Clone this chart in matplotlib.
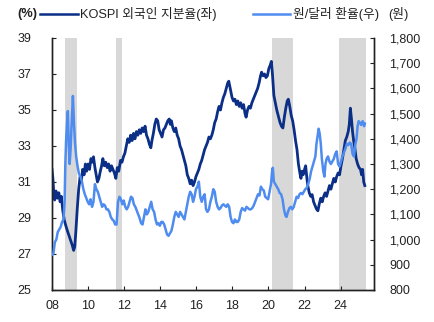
import matplotlib
matplotlib.use("Agg")
import matplotlib.pyplot as plt
from matplotlib.lines import Line2D
from matplotlib.ticker import FuncFormatter

plt.rcParams['font.family'] = ['Liberation Sans', 'Noto Sans CJK KR', 'DejaVu Sans']

# KOSPI foreign ownership share (%), left axis
share_t = [2008.00, 2008.05, 2008.10, 2008.15, 2008.22, 2008.30, 2008.38, 2008.45, 2008.52, 2008.60,
           2008.68, 2008.76, 2008.85, 2008.95, 2009.05, 2009.12, 2009.20, 2009.26, 2009.32, 2009.40,
           2009.48, 2009.56, 2009.62, 2009.70, 2009.78, 2009.85, 2009.92, 2010.00, 2010.08, 2010.16,
           2010.24, 2010.30, 2010.38, 2010.45, 2010.52, 2010.60, 2010.68, 2010.75, 2010.82, 2010.90,
           2010.98, 2011.06, 2011.14, 2011.22, 2011.30, 2011.38, 2011.46, 2011.54, 2011.62, 2011.70,
           2011.80, 2011.88, 2011.96, 2012.04, 2012.12, 2012.20, 2012.28, 2012.36, 2012.44, 2012.52,
           2012.60, 2012.68, 2012.76, 2012.84, 2012.92, 2013.00, 2013.08, 2013.16, 2013.24, 2013.32,
           2013.40, 2013.48, 2013.54, 2013.62, 2013.70, 2013.78, 2013.86, 2013.94, 2014.02, 2014.10,
           2014.18, 2014.26, 2014.34, 2014.42, 2014.50, 2014.56, 2014.62, 2014.70, 2014.78, 2014.86,
           2014.94, 2015.02, 2015.10, 2015.18, 2015.26, 2015.34, 2015.42, 2015.50, 2015.58, 2015.66,
           2015.74, 2015.82, 2015.90, 2015.98, 2016.06, 2016.14, 2016.22, 2016.30, 2016.38, 2016.46,
           2016.54, 2016.62, 2016.70, 2016.78, 2016.86, 2016.94, 2017.02, 2017.10, 2017.18, 2017.26,
           2017.34, 2017.42, 2017.50, 2017.58, 2017.66, 2017.74, 2017.80, 2017.86, 2017.92, 2017.98,
           2018.06, 2018.14, 2018.22, 2018.30, 2018.38, 2018.46, 2018.54, 2018.62, 2018.70, 2018.76,
           2018.84, 2018.92, 2019.00, 2019.08, 2019.16, 2019.24, 2019.32, 2019.40, 2019.48, 2019.56,
           2019.62, 2019.70, 2019.78, 2019.86, 2019.94, 2020.02, 2020.10, 2020.16, 2020.22, 2020.30,
           2020.38, 2020.46, 2020.56, 2020.64, 2020.72, 2020.80, 2020.88, 2020.96, 2021.04, 2021.10,
           2021.18, 2021.26, 2021.34, 2021.42, 2021.50, 2021.58, 2021.66, 2021.74, 2021.80, 2021.86,
           2021.92, 2022.00, 2022.06, 2022.12, 2022.18, 2022.26, 2022.34, 2022.42, 2022.50, 2022.58,
           2022.66, 2022.74, 2022.82, 2022.90, 2022.98, 2023.06, 2023.14, 2023.22, 2023.30, 2023.38,
           2023.46, 2023.54, 2023.62, 2023.70, 2023.78, 2023.86, 2023.94, 2024.02, 2024.10, 2024.18,
           2024.26, 2024.34, 2024.42, 2024.48, 2024.54, 2024.60, 2024.66, 2024.72, 2024.80, 2024.86,
           2024.94, 2025.02, 2025.10, 2025.16, 2025.22, 2025.28, 2025.34]
share_v = [31.7, 31.2, 30.4, 30.0, 30.5, 30.1, 30.4, 29.9, 30.2, 29.4,
           28.9, 28.6, 28.3, 28.0, 27.7, 27.5, 27.2, 27.4, 28.2, 29.5,
           30.6, 31.3, 31.0, 31.7, 31.4, 32.0, 31.6, 32.0, 31.7, 32.3,
           32.1, 32.4, 31.8, 31.4, 31.0, 31.2, 31.6, 31.9, 32.3, 31.9,
           32.1, 31.8, 32.0, 31.6, 31.9, 31.7, 31.5, 31.2, 31.8, 31.6,
           32.2, 32.1, 32.4, 32.6, 33.0, 33.4, 33.2, 33.6, 33.3, 33.7,
           33.4, 33.8, 33.6, 33.9, 33.7, 34.0, 33.8, 34.1, 33.6, 33.4,
           33.1, 32.9, 33.3, 33.7, 34.2, 34.5, 34.4, 33.9, 33.7, 33.5,
           33.9, 34.0, 34.2, 34.4, 34.5, 34.2, 34.4, 34.0, 33.8, 34.0,
           33.6, 33.4, 33.0, 32.8, 32.5, 32.2, 31.9, 31.4, 31.2, 30.9,
           31.1, 30.8, 31.0, 31.3, 31.5, 31.7, 32.0, 32.2, 32.5, 32.8,
           33.0, 33.2, 33.5, 33.4, 33.6, 33.9, 34.3, 34.5, 34.9, 35.2,
           35.0, 35.4, 35.7, 35.9, 36.2, 36.5, 36.6, 36.3, 36.0, 35.7,
           35.5, 35.6, 35.3, 35.5, 35.2, 35.4, 35.1, 35.3, 34.8, 34.6,
           35.0, 35.2, 35.1, 35.4, 35.6, 35.8, 36.0, 36.2, 36.5, 36.9,
           37.1, 36.9, 37.0, 36.8, 36.9, 37.3, 37.5, 37.7, 37.0, 35.8,
           35.4, 35.0, 34.6, 34.3, 34.1, 34.0, 34.6, 35.1, 35.5, 35.6,
           35.2, 34.7, 34.4, 33.9, 33.3, 32.8, 32.0, 31.5, 31.2, 31.6,
           31.4, 31.7, 31.9, 31.3, 30.8, 30.4, 30.2, 30.3, 29.9, 29.7,
           29.5, 29.4, 29.8, 30.1, 29.9, 30.2, 30.4, 30.2, 30.5, 30.8,
           30.6, 30.9, 31.2, 31.0, 31.3, 31.5, 31.4, 31.9, 32.3, 32.8,
           33.3, 33.5, 33.8, 34.2, 35.1, 34.5, 33.8, 33.3, 32.8, 32.3,
           32.0, 31.8, 31.7, 31.4, 31.7, 31.0, 30.8]

# KRW/USD exchange rate (won), right axis
fx_t = [2008.00, 2008.08, 2008.16, 2008.24, 2008.32, 2008.40, 2008.48, 2008.56, 2008.64, 2008.70,
        2008.74, 2008.78, 2008.84, 2008.88, 2008.93, 2008.98, 2009.04, 2009.10, 2009.16, 2009.22,
        2009.28, 2009.34, 2009.42, 2009.50, 2009.58, 2009.66, 2009.74, 2009.82, 2009.90, 2009.98,
        2010.06, 2010.14, 2010.22, 2010.30, 2010.38, 2010.46, 2010.54, 2010.62, 2010.70, 2010.78,
        2010.86, 2010.94, 2011.02, 2011.10, 2011.18, 2011.26, 2011.34, 2011.42, 2011.50, 2011.58,
        2011.66, 2011.74, 2011.82, 2011.90, 2011.98, 2012.06, 2012.14, 2012.22, 2012.30, 2012.38,
        2012.46, 2012.54, 2012.62, 2012.70, 2012.78, 2012.86, 2012.94, 2013.02, 2013.10, 2013.18,
        2013.26, 2013.34, 2013.42, 2013.50, 2013.58, 2013.66, 2013.74, 2013.82, 2013.90, 2013.98,
        2014.06, 2014.14, 2014.22, 2014.30, 2014.38, 2014.46, 2014.54, 2014.62, 2014.70, 2014.78,
        2014.86, 2014.94, 2015.02, 2015.10, 2015.18, 2015.26, 2015.34, 2015.42, 2015.50, 2015.58,
        2015.66, 2015.74, 2015.82, 2015.90, 2015.98, 2016.06, 2016.14, 2016.22, 2016.30, 2016.38,
        2016.46, 2016.54, 2016.62, 2016.70, 2016.78, 2016.86, 2016.94, 2017.02, 2017.10, 2017.18,
        2017.26, 2017.34, 2017.42, 2017.50, 2017.58, 2017.66, 2017.74, 2017.82, 2017.90, 2017.98,
        2018.06, 2018.14, 2018.22, 2018.30, 2018.38, 2018.46, 2018.54, 2018.62, 2018.70, 2018.78,
        2018.86, 2018.94, 2019.02, 2019.10, 2019.18, 2019.26, 2019.34, 2019.42, 2019.50, 2019.58,
        2019.66, 2019.74, 2019.82, 2019.90, 2019.98, 2020.06, 2020.14, 2020.20, 2020.24, 2020.30,
        2020.38, 2020.46, 2020.54, 2020.62, 2020.70, 2020.78, 2020.86, 2020.94, 2021.00, 2021.08,
        2021.16, 2021.24, 2021.32, 2021.40, 2021.48, 2021.56, 2021.64, 2021.72, 2021.80, 2021.88,
        2021.96, 2022.04, 2022.12, 2022.20, 2022.28, 2022.36, 2022.44, 2022.52, 2022.60, 2022.66,
        2022.72, 2022.78, 2022.84, 2022.90, 2022.96, 2023.04, 2023.10, 2023.16, 2023.22, 2023.30,
        2023.38, 2023.46, 2023.54, 2023.62, 2023.70, 2023.78, 2023.86, 2023.94, 2024.02, 2024.10,
        2024.18, 2024.26, 2024.34, 2024.42, 2024.50, 2024.58, 2024.66, 2024.74, 2024.82, 2024.88,
        2024.94, 2025.00, 2025.06, 2025.14, 2025.22, 2025.30, 2025.34]
fx_v = [940, 945, 990, 1000, 1030, 1040, 1050, 1070, 1080, 1150,
        1300, 1390, 1470, 1510, 1380, 1300, 1370, 1480, 1570, 1460,
        1380, 1330, 1290, 1260, 1250, 1230, 1200, 1180, 1165, 1150,
        1140, 1160, 1130, 1150, 1220, 1200, 1190, 1170, 1150, 1130,
        1140, 1135, 1120, 1120, 1110, 1090, 1080, 1075, 1060, 1060,
        1150, 1170, 1160, 1140, 1155, 1130, 1120, 1130, 1150, 1170,
        1165, 1140, 1130, 1115, 1100, 1085, 1065, 1060, 1090, 1120,
        1100, 1110, 1130, 1150, 1120, 1110, 1080, 1060, 1065, 1055,
        1070, 1070, 1060, 1040, 1020, 1015, 1025, 1035, 1060, 1090,
        1110, 1100, 1090, 1110, 1100, 1090, 1080, 1110, 1140, 1170,
        1190, 1180, 1150, 1170, 1200, 1210, 1230, 1170, 1150, 1170,
        1180, 1120, 1110, 1120, 1150, 1170, 1200, 1190, 1150, 1130,
        1120, 1125, 1135, 1140, 1135, 1130, 1140, 1130, 1090, 1070,
        1065, 1080, 1070, 1070, 1080, 1110, 1125, 1120, 1115, 1130,
        1125, 1120, 1120, 1125, 1135, 1150, 1165, 1180, 1175, 1210,
        1200, 1195, 1170, 1165, 1160, 1190, 1220, 1270, 1285, 1230,
        1220, 1210, 1200, 1185, 1180, 1160, 1120, 1095, 1090, 1110,
        1125, 1130, 1120, 1130, 1150, 1170, 1165, 1180, 1185, 1180,
        1190, 1200, 1205, 1220, 1240, 1270, 1290, 1310, 1330, 1380,
        1410, 1440, 1420, 1380, 1320, 1270, 1250, 1300, 1320, 1330,
        1310, 1300, 1310, 1320, 1340, 1350, 1300, 1290, 1310, 1330,
        1345, 1360, 1380, 1375, 1385, 1380, 1340, 1330, 1380, 1400,
        1450, 1470, 1465, 1455, 1470, 1450, 1460]

# Shaded periods (start, end)
shade_start = [2008.70, 2011.55, 2020.20, 2023.90]
shade_end = [2009.40, 2011.90, 2021.37, 2025.40]

left_ticks = [25, 27, 29, 31, 33, 35, 37, 39]
right_ticks = [800, 900, 1000, 1100, 1200, 1300, 1400, 1500, 1600, 1700, 1800]
x_ticks = [2008, 2010, 2012, 2014, 2016, 2018, 2020, 2022, 2024]
x_labels = ['08', '10', '12', '14', '16', '18', '20', '22', '24']

dark = '#0B2E86'
light = '#4F8CF0'
shade = '#D8D8D8'

fig = plt.figure(figsize=(4.35, 3.22), dpi=100)
ax = fig.add_axes([0.1195, 0.0994, 0.7403, 0.7826])
ax2 = ax.twinx()

for s, e in zip(shade_start, shade_end):
    ax.axvspan(s, e, color=shade, lw=0, zorder=0)

ax.plot(share_t, share_v, color=dark, lw=2.0, zorder=3)
ax2.plot(fx_t, fx_v, color=light, lw=1.8, zorder=3)

ax.set_xlim(2008, 2025.85)
ax.set_ylim(25, 39)
ax2.set_ylim(800, 1800)

ax.set_xticks(x_ticks)
ax.set_xticklabels(x_labels)
ax.set_yticks(left_ticks)
ax2.set_yticks(right_ticks)
ax2.yaxis.set_major_formatter(FuncFormatter(lambda v, p: f'{int(v):,}'))

for a in (ax, ax2):
    a.spines['top'].set_visible(False)
    for sp in a.spines.values():
        sp.set_linewidth(1.0)
        sp.set_color('#222222')

ax.tick_params(axis='x', direction='in', length=3, pad=7, labelsize=9, colors='#222222')
ax.tick_params(axis='y', direction='in', length=3, pad=15, labelsize=9, colors='#222222')
ax2.tick_params(axis='y', direction='in', length=3, pad=11, labelsize=9, colors='#222222')

# Legend row across the top
ty = 0.958
fs = 9.2
fig.text(0.041, ty, '(%)', fontsize=fs, va='center', ha='left', color='#222222', fontweight='bold')
fig.add_artist(Line2D([0.092, 0.180], [ty, ty], color=dark, lw=1.8, transform=fig.transFigure))
fig.text(0.184, ty, 'KOSPI 외국인 지분율(좌)', fontsize=fs, va='center', ha='left', color='#222222')
fig.add_artist(Line2D([0.582, 0.667], [ty, ty], color=light, lw=1.8, transform=fig.transFigure))
fig.text(0.673, ty, '원/달러 환율(우)', fontsize=fs, va='center', ha='left', color='#222222')
fig.text(0.892, ty, '(원)', fontsize=fs, va='center', ha='left', color='#222222')

fig.savefig('out.png', dpi=100)
